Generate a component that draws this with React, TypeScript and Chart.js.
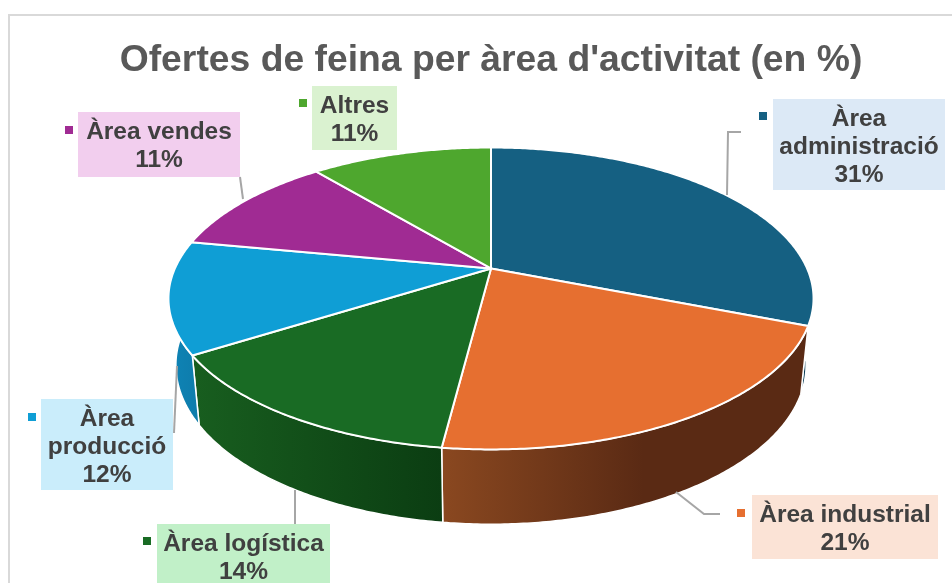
import React, { useEffect, useRef } from "react";
import { Chart, registerables } from "chart.js";

Chart.register(...registerables);

const titleText = "Ofertes de feina per àrea d'activitat (en %)";
const categories = ["Àrea administració", "Àrea industrial", "Àrea logística", "Àrea producció", "Àrea vendes", "Altres"];
const shares = [31, 21, 14, 12, 11, 11];
const sliceColors = ["#156082", "#E66F30", "#196B24", "#0F9ED5", "#A02B93", "#4EA72E"];
const labelFills = ["#DCE9F6", "#FBE3D6", "#C1F0C8", "#CAEDFB", "#F2CEEE", "#DAF2D0"];
const wallLeftColors = ["#0E4A66", "#8A4820", "#185E1F", "#0E84B6", "#7A2070", "#3A8020"];
const wallRightColors = ["#0E3F58", "#5A2A14", "#0B3D12", "#0E7CAB", "#7A2070", "#3A8020"];

const FONT = '"Liberation Sans", Arial, sans-serif';

// layout of the label boxes: x, y, w, h, key x, key y, and leader polyline
const boxes = [
  { x: 773, y: 99, w: 172, h: 91, kx: 759, ky: 112, lines: ["Àrea", "administració"], leader: [[727, 195], [728, 132], [741, 132]] },
  { x: 752, y: 495, w: 186, h: 64, kx: 737, ky: 509, lines: ["Àrea industrial"], leader: [[676, 492], [704, 514], [720, 514]] },
  { x: 157, y: 524, w: 173, h: 65, kx: 143, ky: 537, lines: ["Àrea logística"], leader: [[295, 490], [295, 524]] },
  { x: 41, y: 399, w: 132, h: 91, kx: 28, ky: 413, lines: ["Àrea", "producció"], leader: [[177, 366], [174, 433]] },
  { x: 78, y: 112, w: 162, h: 65, kx: 65, ky: 126, lines: ["Àrea vendes"], leader: [[240, 177], [243, 199]] },
  { x: 312, y: 86, w: 85, h: 64, kx: 299, ky: 99, lines: ["Altres"], leader: [] as number[][] },
];

// perspective of the tilted disc, relative to the library's arc radius
const TILT = -0.1987;
const WIDTH_RATIO = 2.18;
const DEPTH_X = 0.977;
const DEPTH_Y = 1.054;
const DEPTH_SHIFT = 65;

const pie3d = {
  id: "pie3d",
  beforeDraw(chart: any) {
    const { ctx, width, height } = chart;
    ctx.save();
    ctx.fillStyle = "#FFFFFF";
    ctx.fillRect(0, 0, width, height);
    ctx.strokeStyle = "#D9D9D9";
    ctx.lineWidth = 2;
    ctx.strokeRect(9, 15, width + 40, height + 40);
    ctx.restore();
  },
  beforeDatasetsDraw(chart: any) {
    const { ctx } = chart;
    const arcs = chart.getDatasetMeta(0).data;
    const project = (arc: any, a: number) => {
      const u = Math.cos(a);
      const v = Math.sin(a);
      const w = 1 + TILT * v;
      return [arc.x + (arc.outerRadius * WIDTH_RATIO * u) / w, arc.y + (arc.outerRadius * v) / w];
    };
    const lower = (arc: any, p: number[]) => [
      arc.x + DEPTH_X * (p[0] - arc.x),
      arc.y + DEPTH_SHIFT + DEPTH_Y * (p[1] - arc.y),
    ];
    const rim = (arc: any) => {
      const pts: number[][] = [];
      const steps = Math.max(2, Math.ceil((arc.endAngle - arc.startAngle) / 0.01));
      for (let i = 0; i <= steps; i++) {
        pts.push(project(arc, arc.startAngle + ((arc.endAngle - arc.startAngle) * i) / steps));
      }
      return pts;
    };
    ctx.save();
    ctx.lineJoin = "round";
    // walls
    arcs.forEach((arc: any, i: number) => {
      const pts = rim(arc);
      const bottom = pts.map((p) => lower(arc, p));
      const xs = pts.concat(bottom).map((p) => p[0]);
      const minX = Math.min(...xs);
      const maxX = Math.max(...xs);
      const g = ctx.createLinearGradient(minX, 0, maxX, 0);
      if (i === 1) {
        g.addColorStop(0, wallLeftColors[i]);
        g.addColorStop(0.55, wallRightColors[i]);
        g.addColorStop(1, wallRightColors[i]);
      } else {
        g.addColorStop(0, wallLeftColors[i]);
        g.addColorStop(1, wallRightColors[i]);
      }
      ctx.beginPath();
      pts.forEach((p, k) => (k ? ctx.lineTo(p[0], p[1]) : ctx.moveTo(p[0], p[1])));
      bottom.reverse().forEach((p) => ctx.lineTo(p[0], p[1]));
      ctx.closePath();
      ctx.fillStyle = g;
      ctx.fill();
      ctx.strokeStyle = "#FFFFFF";
      ctx.lineWidth = 1.5;
      ctx.stroke();
    });
    // top faces
    arcs.forEach((arc: any, i: number) => {
      const pts = rim(arc);
      ctx.beginPath();
      ctx.moveTo(arc.x, arc.y);
      pts.forEach((p) => ctx.lineTo(p[0], p[1]));
      ctx.closePath();
      ctx.fillStyle = sliceColors[i];
      ctx.fill();
      ctx.strokeStyle = "#FFFFFF";
      ctx.lineWidth = 2;
      ctx.stroke();
    });
    ctx.restore();
    return false;
  },
  afterDraw(chart: any) {
    const { ctx } = chart;
    ctx.save();
    boxes.forEach((b, i) => {
      ctx.strokeStyle = "#A6A6A6";
      ctx.lineWidth = 2;
      ctx.beginPath();
      b.leader.forEach((p, k) => (k ? ctx.lineTo(p[0], p[1]) : ctx.moveTo(p[0], p[1])));
      ctx.stroke();
      ctx.fillStyle = labelFills[i];
      ctx.fillRect(b.x, b.y, b.w, b.h);
      ctx.fillStyle = sliceColors[i];
      ctx.fillRect(b.kx, b.ky, 8, 8);
      ctx.fillStyle = "#404040";
      ctx.font = `bold 24.5px ${FONT}`;
      ctx.textAlign = "center";
      ctx.textBaseline = "alphabetic";
      const text = [...b.lines, `${shares[i]}%`];
      text.forEach((t, k) => {
        ctx.fillText(t, b.x + b.w / 2, b.y + 27 + k * 28);
      });
    });
    ctx.restore();
  },
};

export default function App() {
  const ref = useRef<HTMLCanvasElement>(null);
  useEffect(() => {
    const chart = new Chart(ref.current!, {
      type: "pie",
      data: {
        labels: categories,
        datasets: [{ data: shares, backgroundColor: sliceColors, borderColor: "#FFFFFF", borderWidth: 2 }],
      },
      options: {
        animation: false,
        responsive: false,
        radius: 145,
        layout: { padding: { left: 30, right: 0, top: 8, bottom: 134 } },
        plugins: {
          legend: { display: false },
          tooltip: { enabled: false },
          title: {
            display: true,
            text: titleText,
            color: "#595959",
            font: { family: FONT, size: 37.3, weight: "bold" },
            padding: { top: 30, bottom: 5.2 },
          },
        },
      } as any,
      plugins: [pie3d],
    });
    return () => chart.destroy();
  }, []);
  return (
    <div style={{ position: "fixed", left: 0, top: 0, width: 952, height: 583, background: "#fff" }}>
      <canvas ref={ref} width={952} height={583} style={{ display: "block" }} />
    </div>
  );
}
